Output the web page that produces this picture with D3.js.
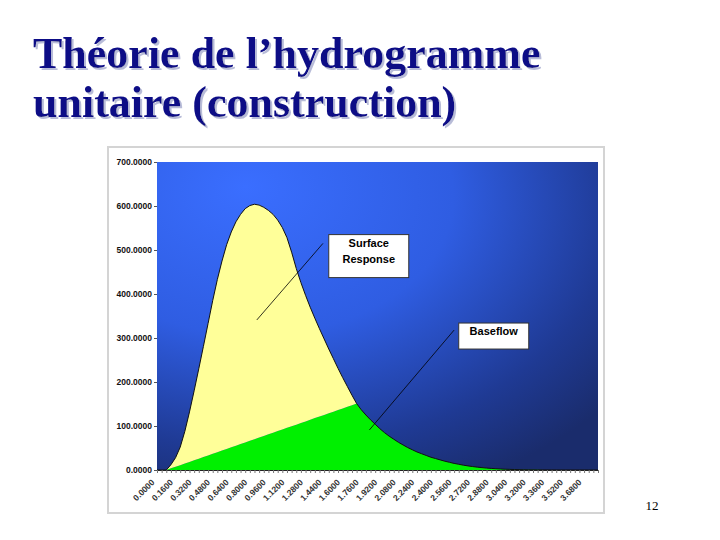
<!DOCTYPE html>
<html>
<head>
<meta charset="utf-8">
<script src="https://cdn.jsdelivr.net/npm/d3@7"></script>
<style>
  body { margin: 0; background: #fff; }
  svg { display: block; }
</style>
</head>
<body>
<svg id="chart" width="720" height="540"></svg>
<script>
// time steps (hours) - category axis
var times = [0.00,0.04,0.08,0.12,0.16,0.20,0.24,0.28,0.32,0.36,0.40,0.44,0.48,0.52,0.56,0.60,
  0.64,0.68,0.72,0.76,0.80,0.84,0.88,0.92,0.96,1.00,1.04,1.08,1.12,1.16,1.20,1.24,
  1.28,1.32,1.36,1.40,1.44,1.48,1.52,1.56,1.60,1.64,1.68,1.72,1.76,1.80,1.84,1.88,
  1.92,1.96,2.00,2.04,2.08,2.12,2.16,2.20,2.24,2.28,2.32,2.36,2.40,2.44,2.48,2.52,
  2.56,2.60,2.64,2.68,2.72,2.76,2.80,2.84,2.88,2.92,2.96,3.00,3.04,3.08,3.12,3.16,
  3.20,3.24,3.28,3.32,3.36,3.40,3.44,3.48,3.52,3.56,3.60,3.64,3.68,3.72,3.76,3.80];

var baseflow = [0,0,0,3.7,7.4,11,14.7,18.4,22.1,25.8,29.5,33.1,36.8,40.5,44.2,47.9,
  51.6,55.2,58.9,62.6,66.3,70,73.7,77.3,81,84.7,88.4,92.1,95.8,99.4,103.1,106.8,
  110.5,114.2,117.9,121.6,125.2,128.9,132.6,136.3,140,143.7,147.3,151,137,125,114,104,
  94,85,77,70,63,57,51,46,41,37,33,29,26,23,20,17.5,
  15,13,11,9.3,7.8,6.5,5.4,4.4,3.6,2.9,2.3,1.8,1.4,1.1,0.85,0.65,
  0.5,0.4,0.3,0.25,0.2,0.15,0.12,0.1,0.08,0.06,0.05,0.04,0.03,0.02,0.02,0.01];

var surface = [0,0,0,8.3,20.6,41,73.3,113.6,157.9,204.2,251.5,299.9,348.2,392.5,430.8,464.1,
  489.4,508.8,522.1,531.4,534.7,534,528.3,519.7,509,496.3,479.6,458.9,432.2,395.6,354.9,319.2,
  286.5,255.8,227.1,199.4,172.8,146.1,120.4,94.7,70,46.3,22.7,0,0,0,0,0,
  0,0,0,0,0,0,0,0,0,0,0,0,0,0,0,0,
  0,0,0,0,0,0,0,0,0,0,0,0,0,0,0,0,
  0,0,0,0,0,0,0,0,0,0,0,0,0,0,0,0];

var xTickLabels = ["0.0000","0.1600","0.3200","0.4800","0.6400","0.8000","0.9600","1.1200",
  "1.2800","1.4400","1.6000","1.7600","1.9200","2.0800","2.2400","2.4000",
  "2.5600","2.7200","2.8800","3.0400","3.2000","3.3600","3.5200","3.6800"];
var yTicks = [0,100,200,300,400,500,600,700];

var titleLines = ["Théorie de l’hydrogramme", "unitaire (construction)"];

// callouts: label, box corner (time, value), pointer from / to (time, value)
var callouts = [
  {lines: ["Surface", "Response"], box: [1.48, 535], w: 80, h: 43, from: [1.43, 515], to: [0.86, 341]},
  {lines: ["Baseflow"], box: [2.60, 334], w: 70, h: 26, from: [2.56, 318], to: [1.83, 91]}
];

var margin = {top: 162, right: 122, bottom: 70, left: 157}
  , width = 720 - margin.left - margin.right
  , height = 540 - margin.top - margin.bottom;

var svg = d3.select("#chart");
var defs = svg.append("defs");

// title shadow filter
var sh = defs.append("filter").attr("id", "shadow")
    .attr("x", "-5%").attr("y", "-20%").attr("width", "110%").attr("height", "140%");
sh.append("feOffset").attr("in", "SourceAlpha").attr("dx", 2).attr("dy", 2).attr("result", "off");
sh.append("feFlood").attr("flood-color", "#b8bcd8").attr("result", "col");
sh.append("feComposite").attr("in", "col").attr("in2", "off").attr("operator", "in").attr("result", "shad");
var mg = sh.append("feMerge");
mg.append("feMergeNode").attr("in", "shad");
mg.append("feMergeNode").attr("in", "SourceGraphic");

var title = svg.append("g")
    .attr("font-family", "'Liberation Serif', 'Times New Roman', serif")
    .attr("font-weight", "bold").attr("font-size", 44)
    .attr("fill", "#0a0a86").attr("filter", "url(#shadow)");
titleLines.forEach(function(t, i){
    title.append("text").attr("x", 33).attr("y", 68 + i * 49).text(t);
});

// chart frame
svg.append("rect")
    .attr("x", 108).attr("y", 147).attr("width", 496).attr("height", 366)
    .attr("fill", "#fff").attr("stroke", "#d4d4d4").attr("stroke-width", 2);

var grad = defs.append("radialGradient").attr("id", "bg")
    .attr("cx", 0.25).attr("cy", 0.15).attr("r", 1.0).attr("fx", 0.2).attr("fy", 0.08);
grad.append("stop").attr("offset", 0).attr("stop-color", "#3a6eff");
grad.append("stop").attr("offset", 0.45).attr("stop-color", "#2f5de2");
grad.append("stop").attr("offset", 0.8).attr("stop-color", "#1f3a94");
grad.append("stop").attr("offset", 1).attr("stop-color", "#1a2c6c");

var g = svg.append("g")
    .attr("transform", "translate(" + margin.left + "," + margin.top + ")");

g.append("rect").attr("width", width).attr("height", height).attr("fill", "url(#bg)");

var xScale = d3.scalePoint().domain(times).range([0, width]);
var yScale = d3.scaleLinear().domain([0, 700]).range([height, 0]);
// same mapping as xScale, for annotation positions between categories
var xCont = d3.scaleLinear().domain([times[0], times[times.length - 1]]).range([0, width]);

var rows = times.map(function(t, i){ return {t: t, baseflow: baseflow[i], surface: surface[i]}; });
var stacked = d3.stack().keys(["baseflow", "surface"])(rows);
var colors = {baseflow: "#00f000", surface: "#ffff99"};

var area = d3.area()
    .x(function(d){ return xScale(d.data.t); })
    .y0(function(d){ return yScale(d[0]); })
    .y1(function(d){ return yScale(d[1]); });

g.selectAll(".layer")
    .data(stacked)
    .enter().append("path")
    .attr("class", "layer")
    .attr("fill", function(d){ return colors[d.key]; })
    .attr("d", area);

// outline along the total
g.append("path")
    .datum(stacked[1])
    .attr("fill", "none").attr("stroke", "#111").attr("stroke-width", 1)
    .attr("d", d3.line()
        .x(function(d){ return xScale(d.data.t); })
        .y(function(d){ return yScale(d[1]); }));

// axes
var yAxis = g.append("g")
    .call(d3.axisLeft(yScale).tickValues(yTicks).tickFormat(d3.format(".4f")).tickSize(3).tickPadding(2));
yAxis.select(".domain").remove();
yAxis.selectAll("line").attr("stroke", "#555");
yAxis.selectAll("text").attr("font-family", "'Liberation Sans', Arial, sans-serif")
    .attr("font-weight", "bold").attr("font-size", 8.5).attr("fill", "#111");

var xAxis = g.append("g")
    .attr("transform", "translate(0," + height + ")")
    .call(d3.axisBottom(xScale).tickSize(3).tickFormat(""));
xAxis.select(".domain").attr("stroke", "#222");
xAxis.selectAll("line").attr("stroke", "#777");

g.append("g").selectAll("text")
    .data(xTickLabels)
    .enter().append("text")
    .attr("transform", function(d){
        return "translate(" + (xCont(+d) - 2) + "," + (height + 13) + ") rotate(-45)";
    })
    .attr("text-anchor", "end")
    .attr("font-family", "'Liberation Sans', Arial, sans-serif")
    .attr("font-weight", "bold").attr("font-size", 8.5).attr("fill", "#333")
    .text(function(d){ return d; });

// callouts
var cg = g.append("g");
callouts.forEach(function(c){
    cg.append("line")
        .attr("x1", xCont(c.from[0])).attr("y1", yScale(c.from[1]))
        .attr("x2", xCont(c.to[0])).attr("y2", yScale(c.to[1]))
        .attr("stroke", "#000").attr("stroke-width", 0.8);
    var bx = xCont(c.box[0]), by = yScale(c.box[1]);
    cg.append("rect").attr("x", bx).attr("y", by).attr("width", c.w).attr("height", c.h)
        .attr("fill", "#fff").attr("stroke", "#333").attr("stroke-width", 1);
    c.lines.forEach(function(l, i){
        cg.append("text").attr("x", bx + c.w / 2).attr("y", by + 12 + i * 16)
            .attr("text-anchor", "middle")
            .attr("font-family", "'Liberation Sans', Arial, sans-serif")
            .attr("font-weight", "bold").attr("font-size", 11).attr("fill", "#000")
            .text(l);
    });
});

// slide number
svg.append("text").attr("x", 652).attr("y", 510).attr("text-anchor", "middle")
    .attr("font-family", "'Liberation Serif', 'Times New Roman', serif")
    .attr("font-size", 13).attr("fill", "#000").text("12");
</script>
</body>
</html>
